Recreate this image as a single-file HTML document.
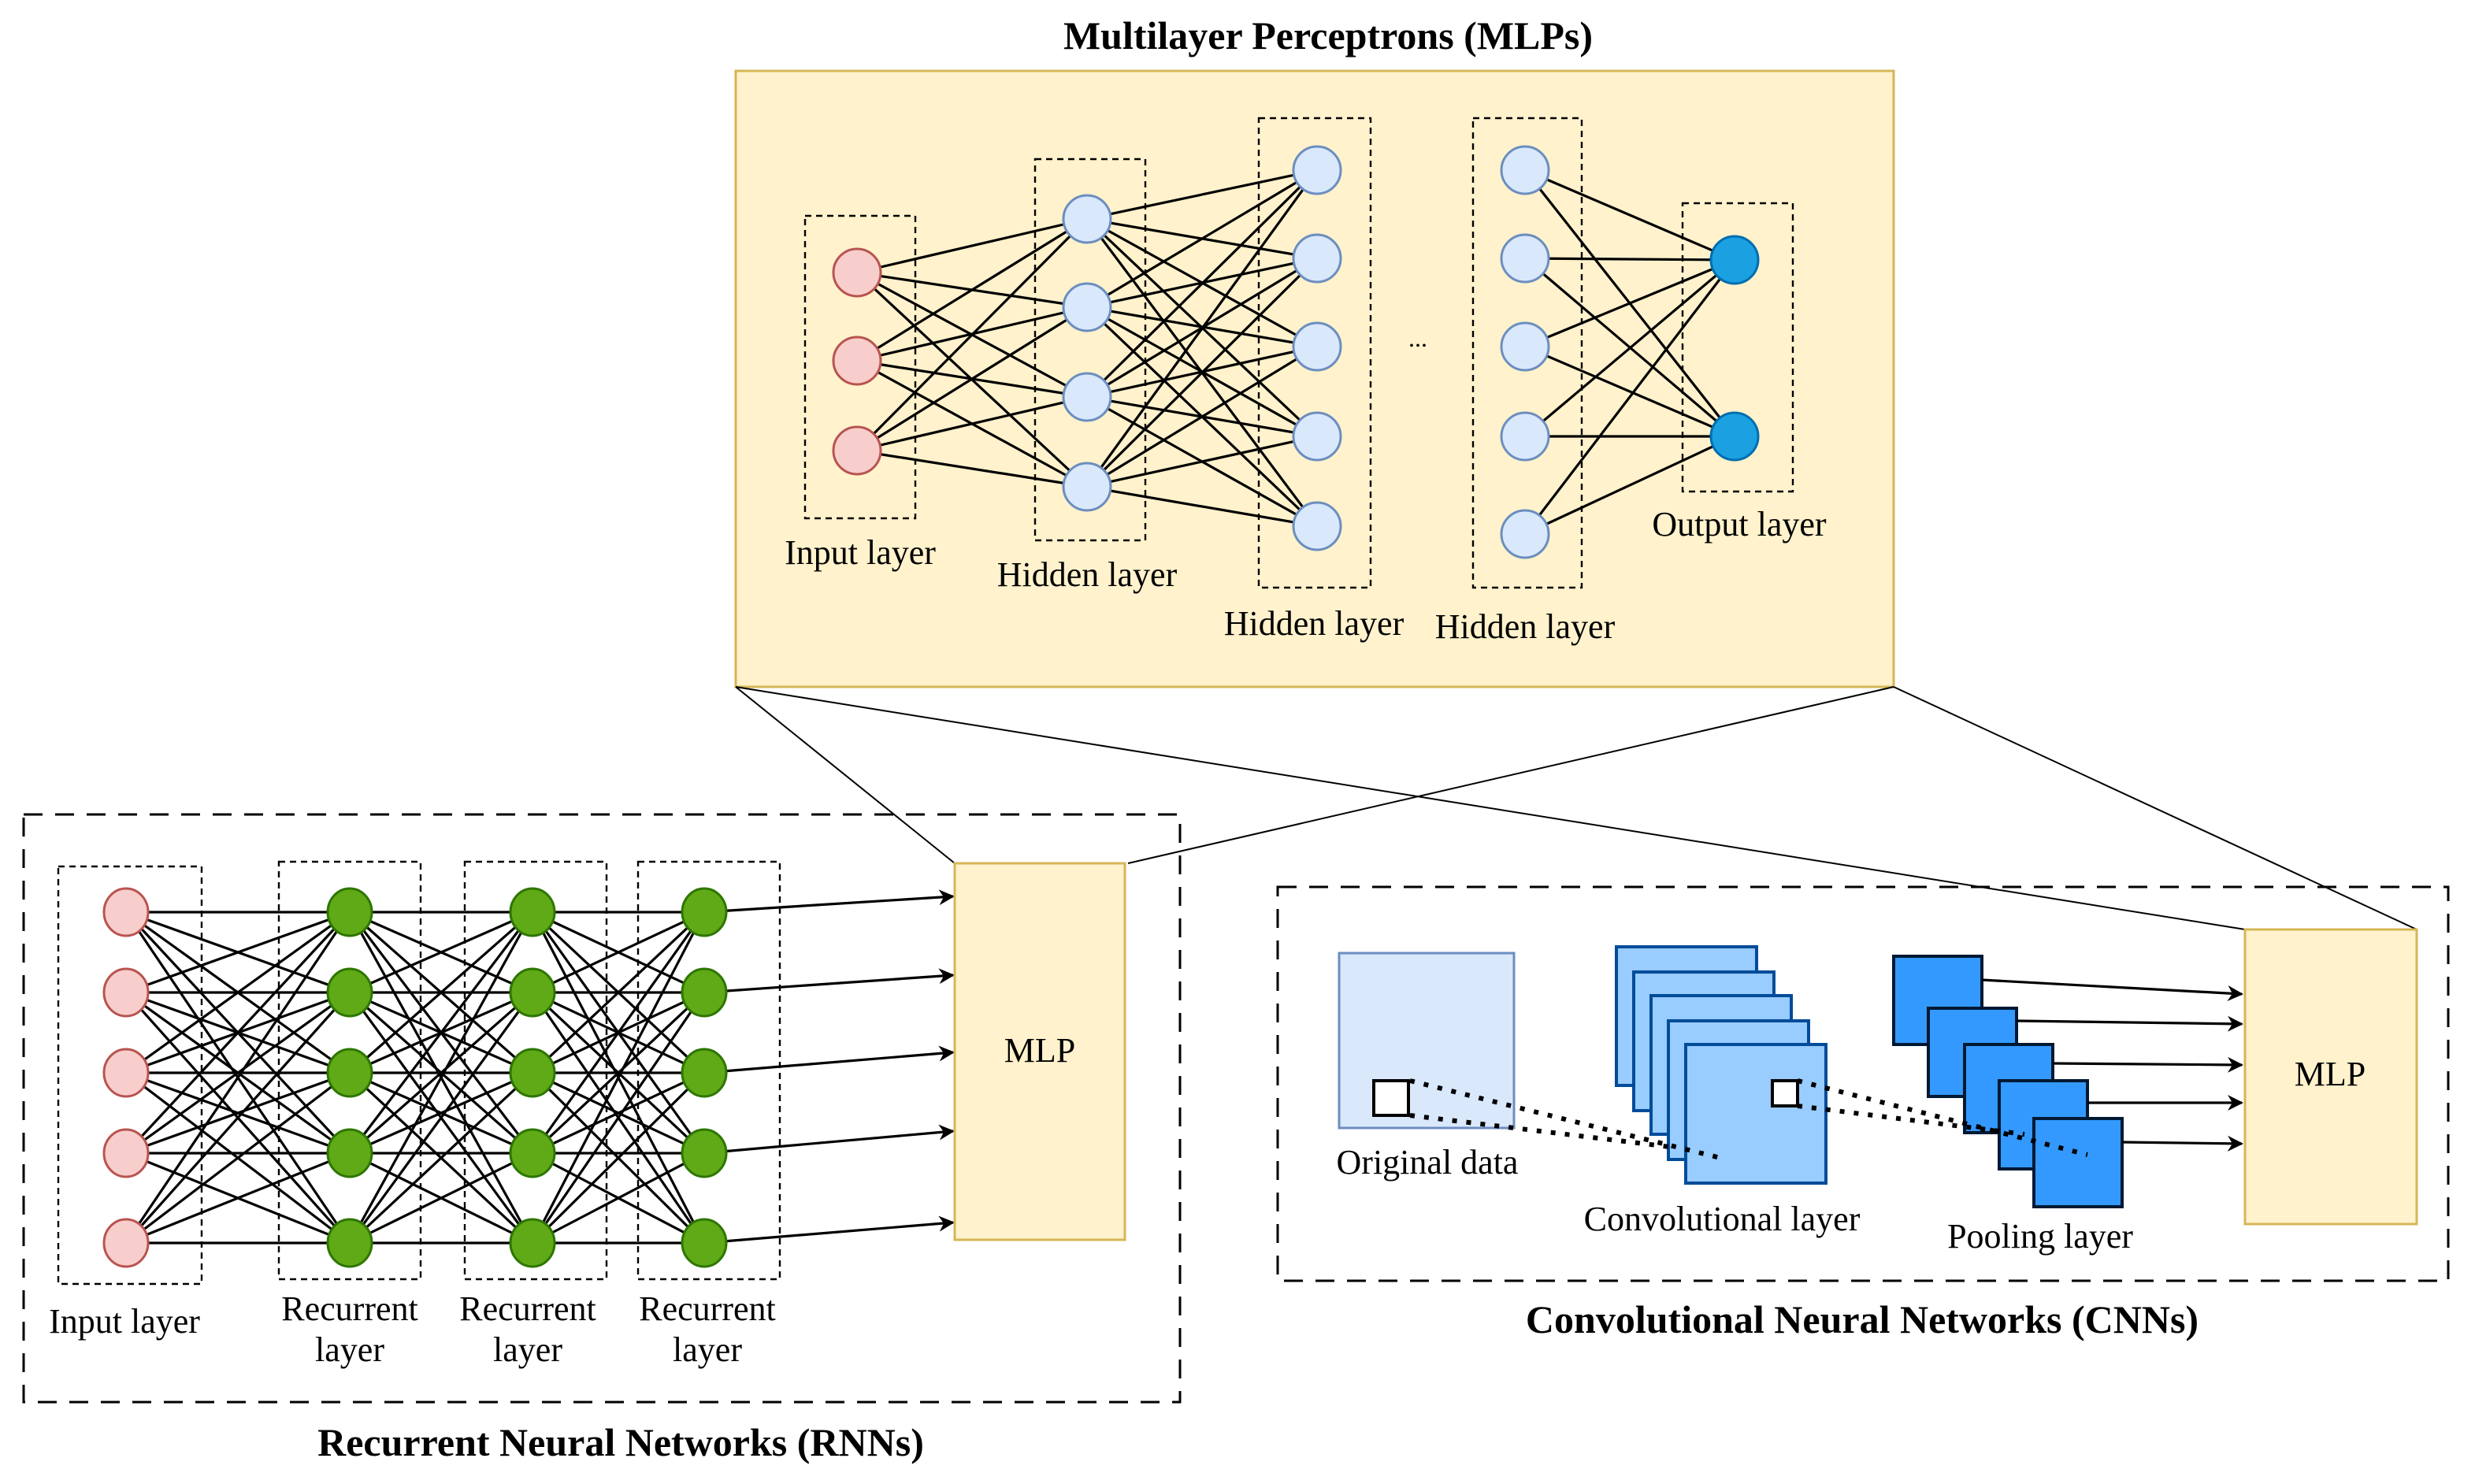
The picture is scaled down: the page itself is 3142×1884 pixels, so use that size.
<!DOCTYPE html>
<html><head><meta charset="utf-8"><style>
html,body{margin:0;padding:0;background:#fff}
svg{display:block}
text{font-family:"Liberation Serif",serif;fill:#000}
</style></head><body>
<svg id="s" width="3142" height="1884" viewBox="0 0 1571 942" xmlns="http://www.w3.org/2000/svg">
<defs>
<marker id="ar" markerWidth="10" markerHeight="10" refX="9" refY="5" orient="auto" markerUnits="userSpaceOnUse"><path d="M0,0 L10,5 L0,10 L3,5 Z" fill="#000"/></marker>
</defs>
<rect x="467" y="45" width="735" height="391" fill="#fff2cc" stroke="#d6b656" stroke-width="1.5"/>
<text x="843" y="31" font-size="25" font-weight="bold" text-anchor="middle">Multilayer Perceptrons (MLPs)</text>
<g id="mlpedges" stroke="#000" stroke-width="1.6"></g>
<g fill="none" stroke="#000" stroke-width="1.2" stroke-dasharray="4,3">
<rect x="511" y="137" width="70" height="192"/>
<rect x="657" y="101" width="70" height="242"/>
<rect x="799" y="75" width="71" height="298"/>
<rect x="935" y="75" width="69" height="298"/>
<rect x="1068" y="129" width="70" height="183"/>
</g>
<g id="mlpnodes"></g>
<text x="900" y="220" font-size="16" text-anchor="middle">...</text>
<g font-size="22" text-anchor="middle">
<text x="546" y="358">Input layer</text>
<text x="690" y="372">Hidden layer</text>
<text x="834" y="403">Hidden layer</text>
<text x="968" y="405">Hidden layer</text>
<text x="1104" y="340">Output layer</text>
</g>
<g stroke="#000" stroke-width="1">
<line x1="467" y1="436" x2="606" y2="548"/>
<line x1="1202" y1="436" x2="716" y2="548"/>
<line x1="467" y1="436" x2="1425" y2="590"/>
<line x1="1202" y1="436" x2="1534" y2="590"/>
</g>
<!-- RNN -->
<rect x="15" y="517" width="734" height="373" fill="none" stroke="#000" stroke-width="1.5" stroke-dasharray="12,8"/>
<g fill="none" stroke="#000" stroke-width="1.2" stroke-dasharray="4,3">
<rect x="37" y="550" width="91" height="265"/>
<rect x="177" y="547" width="90" height="265"/>
<rect x="295" y="547" width="90" height="265"/>
<rect x="405" y="547" width="90" height="265"/>
</g>
<g id="rnnedges" stroke="#000" stroke-width="1.6"></g>
<g id="rnnnodes"></g>
<rect x="606" y="548" width="108" height="239" fill="#fff2cc" stroke="#d6b656" stroke-width="1.5"/>
<text x="660" y="674" font-size="22" text-anchor="middle">MLP</text>
<g font-size="22" text-anchor="middle">
<text x="79" y="846">Input layer</text>
<text x="222" y="838">Recurrent</text><text x="222" y="864">layer</text>
<text x="335" y="838">Recurrent</text><text x="335" y="864">layer</text>
<text x="449" y="838">Recurrent</text><text x="449" y="864">layer</text>
</g>
<text x="394" y="924" font-size="25" font-weight="bold" text-anchor="middle">Recurrent Neural Networks (RNNs)</text>
<!-- CNN -->
<rect x="811" y="563" width="743" height="250" fill="none" stroke="#000" stroke-width="1.5" stroke-dasharray="12,8"/>
<rect x="850" y="605" width="111" height="111" fill="#dae8fc" stroke="#6c8ebf" stroke-width="1.5"/>
<rect x="872" y="686" width="22" height="22" fill="#fff" stroke="#000" stroke-width="2"/>
<g fill="#99ccff" stroke="#004c99" stroke-width="2">
<rect x="1026" y="601" width="89" height="88"/>
<rect x="1037" y="617" width="89" height="88"/>
<rect x="1048" y="632" width="89" height="88"/>
<rect x="1059" y="648" width="89" height="88"/>
<rect x="1070" y="663" width="89" height="88"/>
</g>
<rect x="1125" y="686" width="16" height="16" fill="#fff" stroke="#000" stroke-width="2"/>
<g fill="#3399ff" stroke="#001933" stroke-width="2">
<rect x="1202" y="607" width="56" height="56"/>
<rect x="1224" y="640" width="56" height="56"/>
<rect x="1247" y="663" width="56" height="56"/>
<rect x="1269" y="686" width="56" height="56"/>
<rect x="1291" y="710" width="56" height="56"/>
</g>
<g stroke="#000" stroke-width="3" stroke-dasharray="3,6" fill="none">
<line x1="895" y1="686" x2="1092" y2="735"/>
<line x1="895" y1="708" x2="1060" y2="728"/>
<line x1="1141" y1="686" x2="1325" y2="733"/>
<line x1="1141" y1="702" x2="1285" y2="720"/>
</g>
<g stroke="#000" stroke-width="1.6" marker-end="url(#ar)">
<line x1="1258" y1="622" x2="1423" y2="631"/>
<line x1="1280" y1="648" x2="1423" y2="650"/>
<line x1="1303" y1="675" x2="1423" y2="676"/>
<line x1="1325" y1="700" x2="1423" y2="700"/>
<line x1="1347" y1="725" x2="1423" y2="726"/>
</g>
<rect x="1425" y="590" width="109" height="187" fill="#fff2cc" stroke="#d6b656" stroke-width="1.5"/>
<text x="1479" y="689" font-size="22" text-anchor="middle">MLP</text>
<g font-size="22" text-anchor="middle">
<text x="906" y="745">Original data</text>
<text x="1093" y="781">Convolutional layer</text>
<text x="1295" y="792">Pooling layer</text>
</g>
<text x="1182" y="846" font-size="25" font-weight="bold" text-anchor="middle">Convolutional Neural Networks (CNNs)</text>
</svg>
<script>
var NS="http://www.w3.org/2000/svg";
function el(p,t,a){var e=document.createElementNS(NS,t);for(var k in a)e.setAttribute(k,a[k]);document.getElementById(p).appendChild(e);}
function full(p,x1,Y1,x2,Y2){Y1.forEach(function(a){Y2.forEach(function(b){el(p,"line",{x1:x1,y1:a,x2:x2,y2:b});});});}
function nodes(p,x,Y,f,s,rx,ry){Y.forEach(function(y){el(p,"ellipse",{cx:x,cy:y,rx:rx,ry:ry,fill:f,stroke:s,"stroke-width":1.5});});}
var i1=[173,229,286],h1=[139,195,252,309],h2=[108,164,220,277,334],h3=[108,164,220,277,339],o=[165,277];
full("mlpedges",544,i1,690,h1);full("mlpedges",690,h1,836,h2);full("mlpedges",968,h3,1101,o);
nodes("mlpnodes",544,i1,"#f8cecc","#b85450",15,15);
nodes("mlpnodes",690,h1,"#dae8fc","#6c8ebf",15,15);
nodes("mlpnodes",836,h2,"#dae8fc","#6c8ebf",15,15);
nodes("mlpnodes",968,h3,"#dae8fc","#6c8ebf",15,15);
nodes("mlpnodes",1101,o,"#1ba1e2","#006eaf",15,15);
var ry=[579,630,681,732,789];
full("rnnedges",80,ry,222,ry);full("rnnedges",222,ry,338,ry);full("rnnedges",338,ry,447,ry);
var ay=[569,619,668,718,776];
ry.forEach(function(y,i){el("rnnedges","line",{x1:447,y1:y,x2:605,y2:ay[i],"marker-end":"url(#ar)"});});
nodes("rnnnodes",80,ry,"#f8cecc","#b85450",14,15);
[222,338,447].forEach(function(x){nodes("rnnnodes",x,ry,"#60a917","#2d7600",14,15);});
</script>
</body></html>
